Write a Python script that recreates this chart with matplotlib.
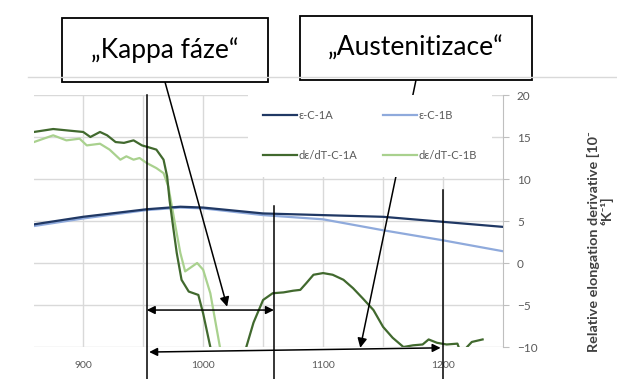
import numpy as np
import matplotlib
matplotlib.use("Agg")
import matplotlib.pyplot as plt
from matplotlib.patches import Rectangle

plt.rcParams['font.family'] = ['Lato', 'DejaVu Sans']

# temperature [°C] and curves (right axis units)
T_eps = [859, 900, 953, 981, 1000, 1050, 1100, 1150, 1200, 1250]
eps_1A = [4.6, 5.5, 6.4, 6.7, 6.6, 5.9, 5.7, 5.5, 4.9, 4.3]
eps_1B = [4.4, 5.3, 6.3, 6.6, 6.5, 5.7, 5.2, 3.9, 2.7, 1.4]

T_d1A = [859, 875, 889, 900, 906, 914, 920, 927, 934, 942, 949, 954, 961, 967,
         970, 972, 975, 978, 982, 988, 996, 1000, 1006, 1012, 1030, 1036, 1042,
         1050, 1058, 1067, 1075, 1081, 1086, 1092, 1100, 1108, 1117, 1125, 1133,
         1142, 1150, 1158, 1167, 1175, 1183, 1188, 1195, 1203, 1212, 1214, 1218,
         1220, 1224, 1233]
d_1A = [15.6, 15.95, 15.75, 15.6, 15.0, 15.6, 15.2, 14.4, 14.3, 14.6, 14.0, 13.8,
        13.5, 12.3, 10.3, 7.5, 4.3, 1.2, -2.0, -3.4, -3.8, -6.0, -10.0, -14.0,
        -14.0, -10.0, -7.1, -4.4, -3.6, -3.5, -3.3, -3.2, -2.4, -1.4, -1.2, -1.4,
        -2.0, -3.0, -4.2, -5.6, -7.6, -8.9, -10.0, -9.8, -9.7, -9.1, -9.5, -9.7,
        -9.6, -10.4, -10.4, -10.0, -9.4, -9.1]

T_d1B = [859, 875, 886, 897, 903, 914, 922, 931, 936, 942, 947, 953, 961, 967,
         971, 974, 977, 981, 985, 991, 995, 1000, 1006, 1011, 1014, 1020]
d_1B = [14.4, 15.2, 14.6, 14.8, 14.0, 14.2, 13.5, 12.3, 12.7, 12.3, 12.5, 11.9,
        11.3, 10.7, 9.1, 6.7, 4.3, 1.2, -1.0, -0.4, 0.0, -0.8, -3.6, -7.6, -10.0,
        -14.0]

labels = ["ε-C-1A", "ε-C-1B", "dε/dT-C-1A", "dε/dT-C-1B"]
colors = ["#203864", "#8FAADC", "#41692E", "#A9D18E"]

# annotation ranges (°C)
kappa = [953, 1059]
austen = [953, 1200]

W, H = 617, 379
fig = plt.figure(figsize=(W / 100, H / 100), dpi=100)
ax = fig.add_axes([34 / W, 1 - 347 / H, (503 - 34) / W, (347 - 95) / H])

l1, = ax.plot(T_eps, eps_1A, color=colors[0], lw=1.6, zorder=3)
l2, = ax.plot(T_eps, eps_1B, color=colors[1], lw=1.6, zorder=2)
l3, = ax.plot(T_d1A, d_1A, color=colors[2], lw=1.6, zorder=3)
l4, = ax.plot(T_d1B, d_1B, color=colors[3], lw=1.6, zorder=2)

ax.set_xlim(859, 1250)
ax.set_ylim(-10, 20)
ax.set_xticks([900, 1000, 1100, 1200])
ax.set_xticks([950, 1050, 1150], minor=True)
ax.set_yticks(np.arange(-10, 21, 5))
ax.yaxis.tick_right()
ax.grid(True, which='both', color='#D9D9D9', lw=1)
ax.set_axisbelow(True)
for s in ['left', 'top', 'bottom']:
    ax.spines[s].set_visible(False)
ax.spines['right'].set_color('#BFBFBF')
ax.tick_params(axis='x', which='both', length=0, labelsize=7.5,
               labelcolor='#595959', pad=10)
ax.tick_params(axis='y', length=4, color='#BFBFBF', labelsize=8.5,
               labelcolor='#595959', pad=6)

leg = ax.legend([l1, l3, l2, l4], [labels[0], labels[2], labels[1], labels[3]],
                ncol=2, loc='upper left', bbox_to_anchor=(242 / W, 1 - 89 / H),
                bbox_transform=fig.transFigure, fontsize=8, frameon=True,
                fancybox=False, edgecolor='none', facecolor='white',
                framealpha=1, handlelength=3.05, handletextpad=0.15,
                labelspacing=2.6, columnspacing=2.3, borderpad=1.4)
for t in leg.get_texts():
    t.set_color('#595959')

# right axis title, wrapped onto two lines as in the source chart
fig.text(593 / W, 1 - 242 / H, "Relative elongation derivative [10⁻",
         rotation=90, ha='center', va='center', fontsize=10.4,
         fontweight='bold', color='#404040')
fig.text(607 / W, 1 - 211 / H, "⁶K⁻¹]", rotation=90, ha='center', va='center',
         fontsize=10.4, fontweight='bold', color='#404040')

# frame line at the top of the chart area
fig.add_artist(plt.Line2D([28 / W, 1], [1 - 77 / H] * 2, color='#D9D9D9',
                          lw=1, transform=fig.transFigure))

# vertical markers and range arrows
for x, ytop in [(kappa[0], 20), (kappa[1], 6.8), (austen[1], 8.7)]:
    ax.plot([x, x], [ytop, -14], color='black', lw=1.1, clip_on=False, zorder=5)
ax.annotate("", xy=(kappa[0], -5.6), xytext=(kappa[1], -5.6),
            arrowprops=dict(arrowstyle='<|-|>', color='black', lw=1.1,
                            mutation_scale=12, shrinkA=0, shrinkB=0),
            annotation_clip=False)
ax.annotate("", xy=(austen[0] + 2, -10.6), xytext=(austen[1] - 2, -10.1),
            arrowprops=dict(arrowstyle='<|-|>', color='black', lw=1.1,
                            mutation_scale=12, shrinkA=0, shrinkB=0),
            annotation_clip=False)

# callout boxes
boxes = [("„Kappa fáze“", 62, 18, 268, 82, 1020, -5.2, 165),
         ("„Austenitizace“", 300, 16, 532, 80, 1131, -10.1, 416)]
for txt, x0, y0, x1, y1, ax_x, ax_y, lx in boxes:
    fig.add_artist(Rectangle((x0 / W, 1 - y1 / H), (x1 - x0) / W, (y1 - y0) / H,
                             transform=fig.transFigure, facecolor='white',
                             edgecolor='black', lw=1.3))
    fig.text((x0 + x1) / 2 / W, 1 - (y0 + y1) / 2 / H, txt, ha='center',
             va='center', fontsize=19, color='black')
    ax.annotate("", xy=(ax_x, ax_y), xytext=(lx, H - y1),
                textcoords='figure pixels',
                arrowprops=dict(arrowstyle='-|>', color='black', lw=1.1,
                                mutation_scale=14, shrinkA=0, shrinkB=0),
                annotation_clip=False)

fig.savefig("out.png", dpi=100)
